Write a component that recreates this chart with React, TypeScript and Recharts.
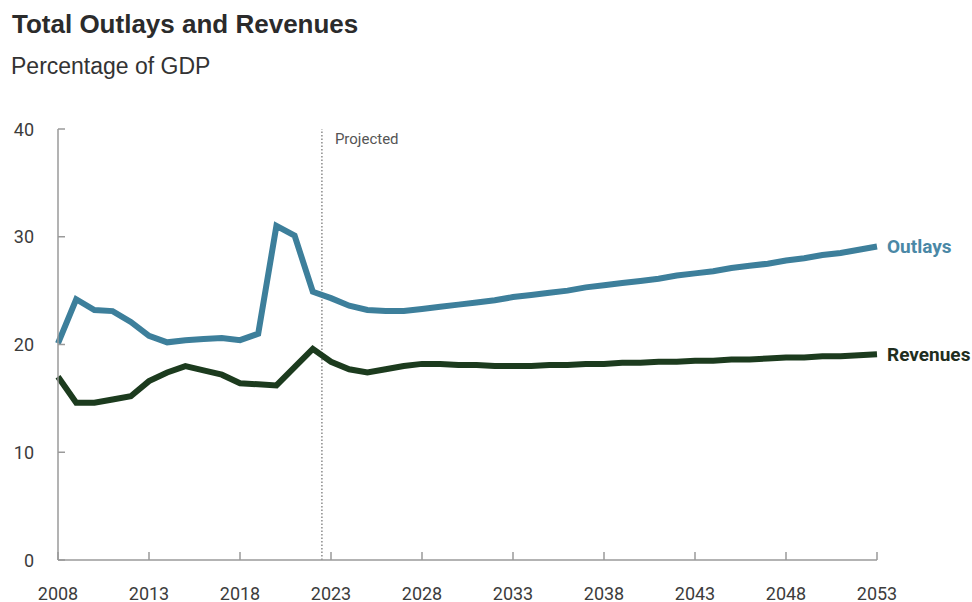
import React from 'react';
import { LineChart, Line, XAxis, YAxis, ReferenceLine, LabelList } from 'recharts';

const years = [
  2008, 2009, 2010, 2011, 2012, 2013, 2014, 2015, 2016, 2017, 2018, 2019, 2020, 2021, 2022,
  2023, 2024, 2025, 2026, 2027, 2028, 2029, 2030, 2031, 2032, 2033, 2034, 2035, 2036, 2037,
  2038, 2039, 2040, 2041, 2042, 2043, 2044, 2045, 2046, 2047, 2048, 2049, 2050, 2051, 2052, 2053,
];

const outlays = [
  20.1, 24.2, 23.2, 23.1, 22.1, 20.8, 20.2, 20.4, 20.5, 20.6, 20.4, 21.0, 31.0, 30.1, 24.9,
  24.3, 23.6, 23.2, 23.1, 23.1, 23.3, 23.5, 23.7, 23.9, 24.1, 24.4, 24.6, 24.8, 25.0, 25.3,
  25.5, 25.7, 25.9, 26.1, 26.4, 26.6, 26.8, 27.1, 27.3, 27.5, 27.8, 28.0, 28.3, 28.5, 28.8, 29.1,
];

const revenues = [
  17.0, 14.6, 14.6, 14.9, 15.2, 16.6, 17.4, 18.0, 17.6, 17.2, 16.4, 16.3, 16.2, 17.9, 19.6,
  18.4, 17.7, 17.4, 17.7, 18.0, 18.2, 18.2, 18.1, 18.1, 18.0, 18.0, 18.0, 18.1, 18.1, 18.2,
  18.2, 18.3, 18.3, 18.4, 18.4, 18.5, 18.5, 18.6, 18.6, 18.7, 18.8, 18.8, 18.9, 18.9, 19.0, 19.1,
];

const xTicks = [2008, 2013, 2018, 2023, 2028, 2033, 2038, 2043, 2048, 2053];
const yTicks = [0, 10, 20, 30, 40];
const projectedStart = 2022.5;

const data = years.map((year, i) => ({ year, outlays: outlays[i], revenues: revenues[i] }));

const AXIS = '#9a9a9a';
const OUTLAYS_COLOR = '#3d7f9b';
const REVENUES_COLOR = '#1c3b1e';
const TICK_FONT = 'Roboto, "Liberation Sans", sans-serif';

const YTick = (props: any) => {
  const { x, y, payload } = props;
  return (
    <g>
      <line x1={x} x2={x + 7} y1={y} y2={y} stroke={AXIS} strokeWidth={1.5} />
      <text x={x - 24} y={y} textAnchor="end" dominantBaseline="central" fontFamily={TICK_FONT} fontSize={18} fill="#3c3c3c">
        {payload.value}
      </text>
    </g>
  );
};

const XTick = (props: any) => {
  const { x, y, payload } = props;
  return (
    <g>
      <line x1={x} x2={x} y1={y} y2={y - 8} stroke={AXIS} strokeWidth={1.5} />
      <text x={x} y={y + 33} textAnchor="middle" dominantBaseline="central" fontFamily={TICK_FONT} fontSize={18} fill="#3c3c3c">
        {payload.value}
      </text>
    </g>
  );
};

const endLabel = (text: string, color: string) => (props: any) => {
  const { x, y, index } = props;
  if (index !== data.length - 1) return null;
  return (
    <text x={x + 10} y={y} dominantBaseline="central" fontFamily={TICK_FONT} fontWeight={700} fontSize={19} fill={color}>
      {text}
    </text>
  );
};

const ProjectedLabel = (props: any) => {
  const { viewBox } = props;
  return (
    <text x={viewBox.x + 13} y={viewBox.y + 10} dominantBaseline="central" fontFamily={TICK_FONT} fontSize={15} fill="#555">
      Projected
    </text>
  );
};

export default function App() {
  return (
    <div style={{ position: 'absolute', left: 0, top: 0, width: 972, height: 602, background: '#fff', overflow: 'hidden' }}>
      <div style={{ position: 'absolute', left: 12, top: 11, fontFamily: '"Liberation Sans", Arial, sans-serif', fontWeight: 700, fontSize: 26, lineHeight: 1, color: '#2b2b2b', whiteSpace: 'nowrap' }}>
        Total Outlays and Revenues
      </div>
      <div style={{ position: 'absolute', left: 11, top: 55, fontFamily: '"Liberation Sans", Arial, sans-serif', fontSize: 23, lineHeight: 1, color: '#333', whiteSpace: 'nowrap' }}>
        Percentage of GDP
      </div>
      <div style={{ position: 'absolute', left: 0, top: 0 }}>
        <LineChart width={972} height={602} data={data} margin={{ top: 129, right: 95, bottom: 12, left: 8 }}>
          <XAxis
            dataKey="year"
            type="number"
            domain={[2008, 2053]}
            ticks={xTicks}
            interval={0}
            height={30}
            stroke={AXIS}
            axisLine={{ stroke: AXIS, strokeWidth: 1.5 }}
            tickLine={false}
            tickSize={0}
            tickMargin={0}
            tick={<XTick />}
          />
          <YAxis
            type="number"
            domain={[0, 40]}
            ticks={yTicks}
            interval={0}
            width={50}
            axisLine={{ stroke: AXIS, strokeWidth: 1.5 }}
            tickLine={false}
            tickSize={0}
            tickMargin={0}
            tick={<YTick />}
          />
          <ReferenceLine
            x={projectedStart}
            stroke="#8a8a8a"
            strokeWidth={1.5}
            strokeDasharray="1.5 2"
            label={<ProjectedLabel />}
          />
          <Line
            type="linear"
            dataKey="outlays"
            stroke={OUTLAYS_COLOR}
            strokeWidth={6}
            dot={false}
            isAnimationActive={false}
          >
            <LabelList dataKey="outlays" content={endLabel('Outlays', '#4a88a6')} />
          </Line>
          <Line
            type="linear"
            dataKey="revenues"
            stroke={REVENUES_COLOR}
            strokeWidth={6}
            dot={false}
            isAnimationActive={false}
          >
            <LabelList dataKey="revenues" content={endLabel('Revenues', '#1f2e20')} />
          </Line>
        </LineChart>
      </div>
    </div>
  );
}
